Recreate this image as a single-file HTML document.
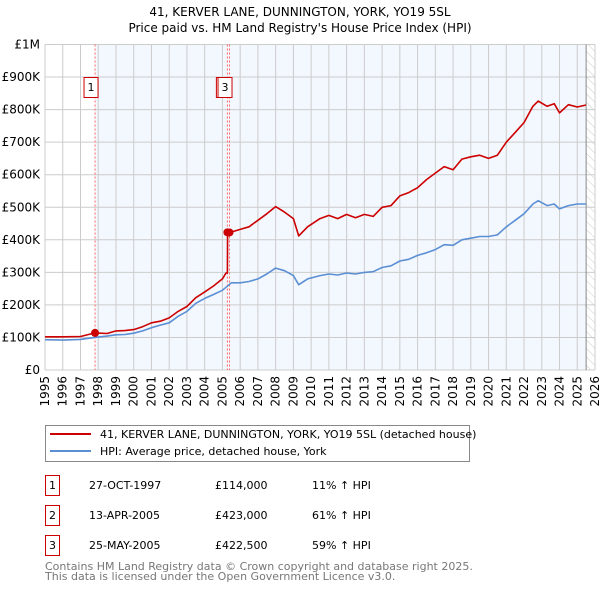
<!DOCTYPE html>
<html><head><meta charset="utf-8"><style>
body{margin:0;background:#fff;font-family:"DejaVu Sans","Liberation Sans",sans-serif;}
svg text{font-family:"DejaVu Sans","Liberation Sans",sans-serif;}
</style></head><body>
<svg id="c" width="600" height="590" xmlns="http://www.w3.org/2000/svg">
<defs><pattern id="hatch" width="6" height="6" patternUnits="userSpaceOnUse" patternTransform="rotate(-45)"><line x1="0" y1="0" x2="0" y2="6" stroke="#ccc" stroke-width="1"/></pattern></defs>
<text x="300" y="16" text-anchor="middle" font-size="12">41, KERVER LANE, DUNNINGTON, YORK, YO19 5SL</text>
<text x="300" y="32" text-anchor="middle" font-size="12">Price paid vs. HM Land Registry's House Price Index (HPI)</text>
<g id="plot"></g>
<g>
<rect x="45.5" y="425.5" width="424" height="36" fill="#fff" stroke="#888"/>
<line x1="50" y1="434" x2="91" y2="434" stroke="#cc0000" stroke-width="2"/>
<text x="100" y="438" font-size="11">41, KERVER LANE, DUNNINGTON, YORK, YO19 5SL (detached house)</text>
<line x1="50" y1="451" x2="91" y2="451" stroke="#5b8fd4" stroke-width="2"/>
<text x="100" y="455" font-size="11">HPI: Average price, detached house, York</text>
</g>
<g id="table" font-size="11"></g>
<text x="45" y="570" font-size="11" fill="#777">Contains HM Land Registry data © Crown copyright and database right 2025.</text>
<text x="45" y="580" font-size="11" fill="#777">This data is licensed under the Open Government Licence v3.0.</text>
</svg>
<script>
const hpiYears=[1995,1996,1997,1997.8,1998.5,1999,1999.5,2000,2000.5,2001,2001.5,2002,2002.5,2003,2003.5,2004,2004.5,2005,2005.5,2006,2006.5,2007,2007.5,2008,2008.5,2009,2009.3,2009.8,2010.5,2011,2011.5,2012,2012.5,2013,2013.5,2014,2014.5,2015,2015.5,2016,2016.5,2017,2017.5,2018,2018.5,2019,2019.5,2020,2020.5,2021,2021.5,2022,2022.5,2022.8,2023.3,2023.7,2024,2024.5,2025,2025.5];
const hpiValues=[93,92,94,100,104,108,109,113,120,130,138,145,165,180,205,220,232,245,268,268,272,280,295,313,305,290,262,280,290,295,292,298,295,300,302,315,320,335,340,352,360,370,385,383,400,405,410,410,415,440,460,480,510,520,505,510,495,505,510,510];
const redYears=[1995,1996,1997,1997.82,1998.5,1999,1999.5,2000,2000.5,2001,2001.5,2002,2002.5,2003,2003.5,2004,2004.5,2005,2005.2,2005.28,2005.29,2005.4,2006,2006.5,2007,2007.5,2008,2008.5,2009,2009.3,2009.8,2010.5,2011,2011.5,2012,2012.5,2013,2013.5,2014,2014.5,2015,2015.5,2016,2016.5,2017,2017.5,2018,2018.5,2019,2019.5,2020,2020.5,2021,2021.5,2022,2022.5,2022.8,2023.3,2023.7,2024,2024.5,2025,2025.5];
const redValues=[102,102,103,114,112,120,121,124,133,145,150,160,180,195,222,240,258,280,298,298,423,422,432,440,460,480,502,485,465,412,440,465,475,465,478,468,478,472,500,505,535,545,560,585,605,625,615,648,655,660,650,660,700,730,760,810,826,810,818,790,815,808,814];
const saleYears=[1997.82,2005.28,2005.4];
const salePrices=[114,423,422.5];
const saleLabels=["1","2","3"];
const saleDates=["27-OCT-1997","13-APR-2005","25-MAY-2005"];
const salePriceText=["£114,000","£423,000","£422,500"];
const saleHpiText=["11% ↑ HPI","61% ↑ HPI","59% ↑ HPI"];
const yTicks=[0,100,200,300,400,500,600,700,800,900,1000];
const yTickLabels=["£0","£100K","£200K","£300K","£400K","£500K","£600K","£700K","£800K","£900K","£1M"];
const xYears=[1995,1996,1997,1998,1999,2000,2001,2002,2003,2004,2005,2006,2007,2008,2009,2010,2011,2012,2013,2014,2015,2016,2017,2018,2019,2020,2021,2022,2023,2024,2025,2026];

const NS="http://www.w3.org/2000/svg";
const X0=45,X1=595,Y0=370,Y1=44.5;
const xs=y=>X0+(y-1995)*(X1-X0)/31;
const ys=v=>Y0-v*(Y0-Y1)/1000;
const plot=document.getElementById('plot');
function mk(tag,attrs,parent){const e=document.createElementNS(NS,tag);for(const k in attrs)e.setAttribute(k,attrs[k]);(parent||plot).appendChild(e);return e;}
let e;
e=mk('rect',{x:xs(1997.82),y:Y1,width:xs(2025.5)-xs(1997.82),height:Y0-Y1,fill:'#f3f7fe'});


e=mk('rect',{x:xs(2025.5),y:Y1,width:X1-xs(2025.5),height:Y0-Y1,fill:'url(#hatch)'});


yTicks.forEach((t,i)=>{
 e=mk('line',{x1:X0,x2:X1,y1:ys(t),y2:ys(t),stroke:'#ccc'});
 
 
 e=mk('text',{x:40,y:ys(t)+4,'text-anchor':'end','font-size':12});
 e.textContent=yTickLabels[i];
 
 
});
xYears.forEach(yr=>{
 e=mk('line',{x1:xs(yr),x2:xs(yr),y1:Y1,y2:Y0,stroke:'#ccc'});
 
 
 e=mk('text',{x:0,y:0,'font-size':12,transform:`translate(${xs(yr)+4},${Y0+6}) rotate(-90)`,'text-anchor':'end'});
 e.textContent=yr;
 
 
});
e=mk('line',{x1:xs(2025.5),x2:xs(2025.5),y1:Y1,y2:Y0,stroke:'#888'});


saleYears.forEach(yr=>{
 e=mk('line',{x1:xs(yr),x2:xs(yr),y1:Y1,y2:Y0,stroke:'#ff6666','stroke-dasharray':'2,2'});
 
 
});
function path(xa,va,col,name){
 const d=xa.map((x,i)=>(i?'L':'M')+xs(x).toFixed(1)+','+ys(va[i]).toFixed(1)).join('');
 e=mk('path',{d:d,fill:'none',stroke:col,'stroke-width':1.6,'stroke-linejoin':'round'});
 
 
}
path(hpiYears,hpiValues,'#5b8fd4','hpi-line');
path(redYears,redValues,'#cc0000','price-paid-line');
saleYears.forEach((yr,i)=>{
 e=mk('circle',{cx:xs(yr),cy:ys(salePrices[i]),r:4,fill:'#cc0000'});
 
 
});
const boxOff=[-11,-11,-11.5];
saleYears.forEach((yr,i)=>{
 const bx=xs(yr)+boxOff[i];
 e=mk('rect',{x:bx,y:77.5,width:14,height:20,fill:'#fff',stroke:'#cc0000'});
 
 
 e=mk('text',{x:bx+7,y:91,'text-anchor':'middle','font-size':11});
 e.textContent=saleLabels[i];
 
 
});
const tbl=document.getElementById('table');
saleYears.forEach((yr,i)=>{
 const y=475+i*30;
 e=mk('rect',{x:45.5,y:y+0.5,width:14,height:20,fill:'#fff',stroke:'#cc0000'},tbl);
 
 
 const cols=[[52.5,saleLabels[i],'middle'],[89,saleDates[i],'start'],[215,salePriceText[i],'start'],[312,saleHpiText[i],'start']];
 cols.forEach(c=>{
  e=mk('text',{x:c[0],y:y+14,'text-anchor':c[2],'font-size':11},tbl);
  e.textContent=c[1];
  
  
 });
});
</script>
</body></html>
